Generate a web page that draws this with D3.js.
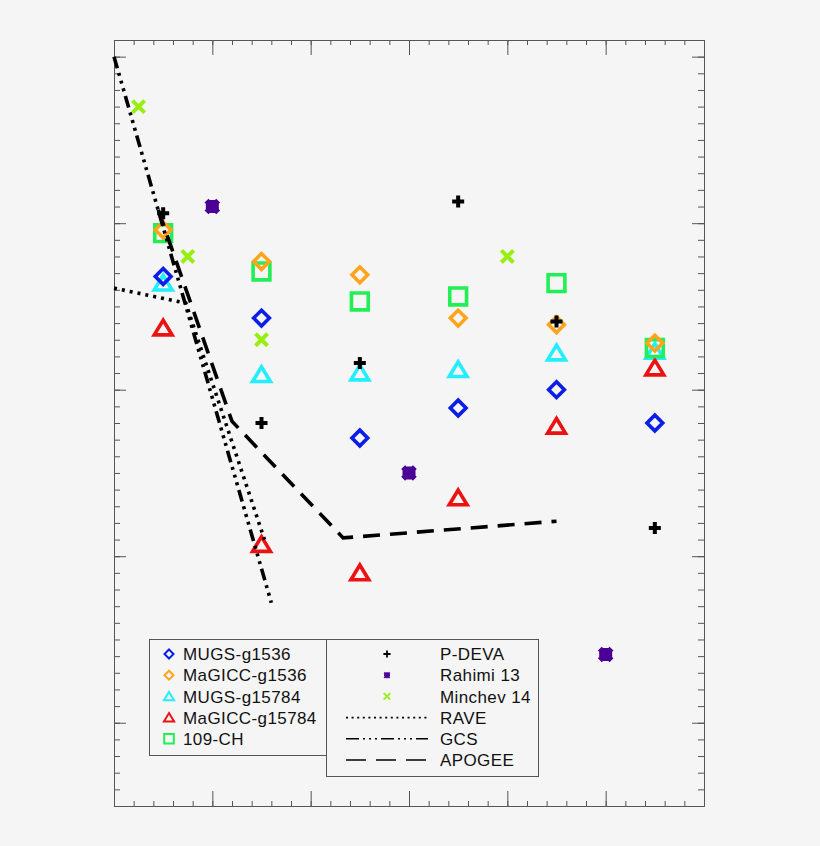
<!DOCTYPE html>
<html lang="en">
  <head>
    <meta charset="UTF-8" />
    <title>Gradient comparison</title>
    <script src="https://d3js.org/d3.v7.min.js"></script>
    <style>
      body {
        margin: 0;
        background: #f5f5f5;
      }
      svg {
        display: block;
        font-family: "Liberation Sans", Arial, sans-serif;
      }
      .axis path,
      .axis line {
        stroke: #555;
        stroke-width: 1;
      }
      .legend-text {
        font-size: 17px;
        letter-spacing: 0.4px;
        fill: #111;
      }
    </style>
  </head>
  <body>
    <script>
      // bins along x, shared by the simulations and P-DEVA
      const xBins = [0.5, 1.5, 2.5, 3.5, 4.5, 5.5];

      const mugsG1536 = [2.68, 2.43, 1.71, 1.89, 2.0, 1.8];
      const magiccG1536 = [2.96, 2.77, 2.69, 2.43, 2.39, 2.28];
      const mugsG15784 = [2.64, 2.09, 2.1, 2.12, 2.22, 2.23];
      const magiccG15784 = [2.37, 1.07, 0.9, 1.35, 1.78, 2.13];
      const ch109 = [2.94, 2.71, 2.53, 2.56, 2.64, 2.25];
      const pdeva = [3.06, 1.8, 2.16, 3.13, 2.41, 1.17];

      const rahimiX = [1, 3, 5];
      const rahimiY = [3.1, 1.5, 0.41];
      const minchevX = [0.25, 0.75, 1.5, 4.0];
      const minchevY = [3.7, 2.8, 2.3, 2.8];

      const raveX = [0, 0.73, 1.53];
      const raveY = [2.61, 2.52, 1.1];
      const gcsX = [0, 1.6];
      const gcsY = [4.0, 0.72];
      const apogeeX = [0.45, 1.2, 2.33, 4.5];
      const apogeeY = [3.08, 1.81, 1.11, 1.21];

      const simNames = ["MUGS-g1536", "MaGICC-g1536", "MUGS-g15784", "MaGICC-g15784", "109-CH"];
      const obsNames = ["P-DEVA", "Rahimi 13", "Minchev 14", "RAVE", "GCS", "APOGEE"];

      const W = 820, H = 846;
      const svg = d3.select("body").append("svg").attr("width", W).attr("height", H);

      const x = d3.scaleLinear().domain([0, 6]).range([114, 704]);
      const y = d3.scaleLinear().domain([-0.5, 4.1]).range([806, 40]);

      // ticks on all four sides, pointing inwards, no labels
      const xMinor = d3.range(0, 31).map((d) => d / 5);
      const xMajor = d3.range(0, 7);
      const yMinor = d3.range(-5, 42).map((d) => d / 10);
      const yMajor = d3.range(0, 5);

      function ticks(gen, vals, size, tr) {
        svg.append("g").attr("class", "axis").attr("transform", tr)
          .call(gen.tickValues(vals).tickSize(-size).tickSizeOuter(0).tickFormat(""));
      }
      ticks(d3.axisBottom(x), xMinor, 5, `translate(0,${y(-0.5)})`);
      ticks(d3.axisBottom(x), xMajor, 15, `translate(0,${y(-0.5)})`);
      ticks(d3.axisTop(x), xMinor, 5, `translate(0,${y(4.1)})`);
      ticks(d3.axisTop(x), xMajor, 15, `translate(0,${y(4.1)})`);
      ticks(d3.axisLeft(y), yMinor, 6, `translate(${x(0)},0)`);
      ticks(d3.axisLeft(y), yMajor, 12, `translate(${x(0)},0)`);
      ticks(d3.axisRight(y), yMinor, 6, `translate(${x(6)},0)`);
      ticks(d3.axisRight(y), yMajor, 12, `translate(${x(6)},0)`);

      // marker shapes (s = scale)
      const shapes = {
        diamond: (s) => `M0,${-7.5 * s}L${7.5 * s},0L0,${7.5 * s}L${-7.5 * s},0Z`,
        triangle: (s) => `M0,${-7.5 * s}L${8.5 * s},${6.5 * s}L${-8.5 * s},${6.5 * s}Z`,
        square: (s) => `M${-8 * s},${-8 * s}H${8 * s}V${8 * s}H${-8 * s}Z`,
        plus: (s) => `M${-6 * s},0H${6 * s}M0,${-6 * s}V${6 * s}`,
        cross: (s) => `M${-5.5 * s},${-5.5 * s}L${5.5 * s},${5.5 * s}M${5.5 * s},${-5.5 * s}L${-5.5 * s},${5.5 * s}`,
        star: (s) =>
          `M${-5 * s},0H${5 * s}M0,${-5 * s}V${5 * s}` +
          `M${-4.5 * s},${-4.5 * s}L${4.5 * s},${4.5 * s}M${4.5 * s},${-4.5 * s}L${-4.5 * s},${4.5 * s}`,
      };

      const sims = [
        { name: simNames[2], vals: mugsG15784, shape: "triangle", color: "#22eeff" },
        { name: simNames[3], vals: magiccG15784, shape: "triangle", color: "#ee1111" },
        { name: simNames[4], vals: ch109, shape: "square", color: "#22ee55" },
        { name: simNames[0], vals: mugsG1536, shape: "diamond", color: "#0a1ee8" },
        { name: simNames[1], vals: magiccG1536, shape: "diamond", color: "#ffa41c" },
      ];

      const marks = svg.append("g");
      sims.forEach((s) => {
        marks.selectAll(null)
          .data(s.vals)
          .join("path")
          .attr("d", shapes[s.shape](1.05))
          .attr("transform", (d, i) => `translate(${x(xBins[i])},${y(d)})`)
          .attr("fill", "none")
          .attr("stroke", s.color)
          .attr("stroke-width", 3.6);
      });

      marks.selectAll(null).data(pdeva).join("path")
        .attr("d", shapes.plus(1))
        .attr("transform", (d, i) => `translate(${x(xBins[i])},${y(d)})`)
        .attr("stroke", "#000").attr("stroke-width", 4).attr("fill", "none");

      marks.selectAll(null).data(rahimiY).join("path")
        .attr("d", shapes.star(1.3))
        .attr("transform", (d, i) => `translate(${x(rahimiX[i])},${y(d)})`)
        .attr("stroke", "#4b0095").attr("stroke-width", 5.5).attr("fill", "none");

      marks.selectAll(null).data(minchevY).join("path")
        .attr("d", shapes.cross(1.1))
        .attr("transform", (d, i) => `translate(${x(minchevX[i])},${y(d)})`)
        .attr("stroke", "#99ee11").attr("stroke-width", 4).attr("fill", "none");

      // observational trends
      const line = d3.line().x((d) => x(d[0])).y((d) => y(d[1]));
      const obsLines = [
        { xs: raveX, ys: raveY, dash: "3,5" },
        { xs: gcsX, ys: gcsY, dash: "12,5,3,5,3,5,3,5" },
        { xs: apogeeX, ys: apogeeY, dash: "17,10" },
      ];
      obsLines.forEach((o) => {
        svg.append("path")
          .datum(d3.zip(o.xs, o.ys))
          .attr("d", line)
          .attr("fill", "none")
          .attr("stroke", "#000")
          .attr("stroke-width", 3.6)
          .attr("stroke-dasharray", o.dash);
      });

      // legends
      const rowY = (i) => 654 + i * 21.2;

      const leg1 = svg.append("g");
      leg1.append("rect").attr("x", 149.5).attr("y", 639.5).attr("width", 177).attr("height", 116)
        .attr("fill", "#f5f5f5").attr("stroke", "#555");
      const simLeg = [
        { shape: "diamond", color: "#0a1ee8" },
        { shape: "diamond", color: "#ffa41c" },
        { shape: "triangle", color: "#22eeff" },
        { shape: "triangle", color: "#ee1111" },
        { shape: "square", color: "#22ee55" },
      ];
      simNames.forEach((n, i) => {
        leg1.append("path")
          .attr("d", shapes[simLeg[i].shape](0.6))
          .attr("transform", `translate(169,${rowY(i)})`)
          .attr("fill", "none").attr("stroke", simLeg[i].color).attr("stroke-width", 2);
        leg1.append("text").attr("class", "legend-text")
          .attr("x", 183).attr("y", rowY(i)).attr("dy", "0.36em").text(n);
      });

      const leg2 = svg.append("g");
      leg2.append("rect").attr("x", 326.5).attr("y", 639.5).attr("width", 212).attr("height", 137)
        .attr("fill", "#f5f5f5").attr("stroke", "#555");
      const obsLeg = [
        { shape: "plus", color: "#000" },
        { shape: "star", color: "#4b0095" },
        { shape: "cross", color: "#99ee11" },
        { dash: "2,3.6" },
        { dash: "13,4,2,4,2,4,2,4" },
        { dash: "20,10" },
      ];
      obsNames.forEach((n, i) => {
        const o = obsLeg[i];
        if (o.shape) {
          leg2.append("path")
            .attr("d", shapes[o.shape](0.6))
            .attr("transform", `translate(387,${rowY(i)})`)
            .attr("fill", "none").attr("stroke", o.color).attr("stroke-width", 1.8);
        } else {
          leg2.append("line")
            .attr("x1", 346).attr("x2", 428).attr("y1", rowY(i)).attr("y2", rowY(i))
            .attr("stroke", "#000").attr("stroke-width", 1.6).attr("stroke-dasharray", o.dash);
        }
        leg2.append("text").attr("class", "legend-text")
          .attr("x", 440).attr("y", rowY(i)).attr("dy", "0.36em").text(n);
      });
    </script>
  </body>
</html>
